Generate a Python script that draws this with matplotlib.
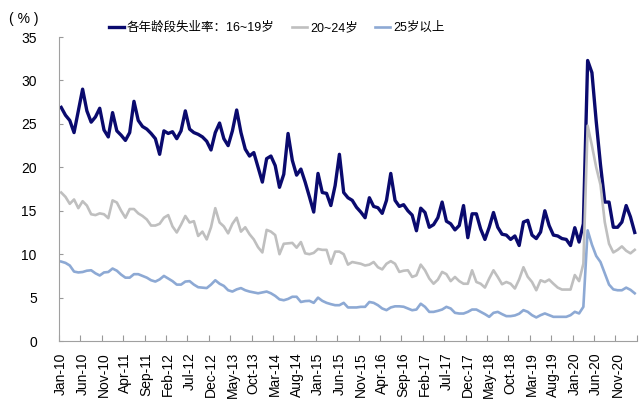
"""
US unemployment rate by age group, monthly, Jan-10 .. Mar-21.
"""
import numpy as np
import matplotlib
matplotlib.use("Agg")
import matplotlib.pyplot as plt

plt.rcParams['font.family'] = ['Liberation Sans', 'Noto Sans CJK SC']
plt.rcParams['axes.unicode_minus'] = False

# 16~19 years
teen = [26.9, 26.0, 25.4, 24.0, 26.5, 29.0, 26.5, 25.2, 25.8, 26.8,
        24.3, 23.5, 26.3, 24.2, 23.7, 23.1, 24.0, 27.6, 25.4, 24.7,
        24.4, 23.9, 23.3, 21.5, 24.2, 23.9, 24.1, 23.3, 24.2, 26.5,
        24.4, 24.0, 23.8, 23.5, 23.0, 22.0, 24.0, 25.1, 23.3, 22.5,
        24.2, 26.6, 24.0, 22.1, 21.3, 21.7, 20.0, 18.3, 21.0, 21.3,
        20.2, 17.7, 19.2, 23.9, 20.8, 19.1, 19.8, 18.3, 16.6, 14.85,
        19.3, 17.1, 17.0, 15.6, 17.9, 21.5, 17.1, 16.5, 16.2, 15.4,
        14.85, 14.2, 16.5, 15.5, 15.35, 14.7, 16.2, 19.3, 16.2, 15.5,
        15.7, 15.0, 14.5, 12.7, 15.3, 14.8, 13.1, 13.4, 14.2, 16.0,
        13.8, 13.5, 12.8, 13.3, 15.6, 11.9, 14.65, 14.65, 12.9, 11.7,
        13.1, 14.8, 13.1, 12.3, 12.2, 11.7, 12.1, 11.0, 13.7, 13.9,
        12.2, 11.8, 12.55, 15.0, 13.3, 12.2, 12.1, 11.8, 11.7, 11.0,
        13.05, 11.4, 13.5, 32.3, 30.9, 25.3, 20.3, 16.0, 16.0, 13.1,
        13.1, 13.7, 15.6, 14.3, 12.5]

# 20~24 years
young = [17.1, 16.6, 15.8, 16.3, 15.3, 16.1, 15.6, 14.6, 14.5, 14.7,
         14.6, 14.15, 16.2, 15.95, 15.0, 14.2, 15.2, 15.2, 14.7, 14.4,
         14.0, 13.3, 13.3, 13.5, 14.2, 14.5, 13.2, 12.5, 13.4, 14.4,
         13.65, 13.8, 12.1, 12.6, 11.7, 13.1, 15.3, 13.65, 13.2, 12.4,
         13.5, 14.2, 12.6, 13.1, 12.3, 11.7, 10.8, 10.2, 12.8, 12.6,
         12.2, 10.0, 11.2, 11.25, 11.3, 10.75, 11.4, 10.1, 10.0, 10.15,
         10.6, 10.5, 10.5, 8.9, 10.3, 10.3, 10.0, 8.8, 9.1, 9.0,
         8.9, 8.7, 8.8, 9.1, 8.5, 8.25, 8.9, 9.2, 8.9, 7.96,
         8.1, 8.15, 7.38, 7.57, 8.8, 8.15, 7.2, 6.6, 7.07, 7.96,
         7.7, 6.9, 7.38, 6.9, 6.6, 6.6, 8.15, 6.8, 6.6, 6.16,
         7.2, 8.15, 7.38, 6.54, 6.8, 6.6, 6.05, 7.1, 8.5, 7.4,
         6.8, 5.85, 7.0, 6.8, 7.08, 6.6, 6.16, 5.93, 5.93, 5.93,
         7.6, 6.9, 8.9, 24.8, 22.5, 20.0, 18.0, 13.7, 11.2, 10.2,
         10.5, 10.9, 10.4, 10.1, 10.5]

# 25 years and over
adult = [9.15, 9.0, 8.7, 8.0, 7.9, 7.95, 8.1, 8.15, 7.8, 7.55,
         7.9, 7.95, 8.35, 8.1, 7.65, 7.3, 7.3, 7.7, 7.7, 7.5,
         7.3, 7.0, 6.85, 7.1, 7.5, 7.2, 6.9, 6.5, 6.5, 6.85,
         6.9, 6.5, 6.2, 6.15, 6.1, 6.5, 7.0, 6.6, 6.35, 5.85,
         5.7, 5.95, 6.1, 5.85, 5.7, 5.6, 5.5, 5.6, 5.7, 5.5,
         5.2, 4.8, 4.7, 4.85, 5.1, 5.1, 4.5, 4.6, 4.63, 4.4,
         5.0, 4.63, 4.4, 4.25, 4.13, 4.13, 4.4, 3.87, 3.87, 3.87,
         3.94, 3.94, 4.5, 4.4, 4.13, 3.75, 3.56, 3.87, 4.0, 4.0,
         3.95, 3.75, 3.55, 3.63, 4.3, 3.94, 3.36, 3.36, 3.48, 3.63,
         3.94, 3.75, 3.25, 3.17, 3.17, 3.36, 3.63, 3.63, 3.36, 3.1,
         2.79, 3.25, 3.36, 3.1, 2.87, 2.87, 2.95, 3.15, 3.56, 3.37,
         2.98, 2.72, 2.98, 3.18, 2.98, 2.79, 2.79, 2.79, 2.79, 2.98,
         3.37, 3.18, 3.94, 12.75, 11.1, 9.8, 9.1, 7.8, 6.5, 5.95,
         5.85, 5.85, 6.15, 5.9, 5.5]

tick_labels = ['Jan-10', 'Jun-10', 'Nov-10', 'Apr-11', 'Sep-11', 'Feb-12',
               'Jul-12', 'Dec-12', 'May-13', 'Oct-13', 'Mar-14', 'Aug-14',
               'Jan-15', 'Jun-15', 'Nov-15', 'Apr-16', 'Sep-16', 'Feb-17',
               'Jul-17', 'Dec-17', 'May-18', 'Oct-18', 'Mar-19', 'Aug-19',
               'Jan-20', 'Jun-20', 'Nov-20']

names = ['各年龄段失业率：16~19岁', '20~24岁', '25岁以上']

n = len(teen)
x = np.arange(n)

fig = plt.figure(figsize=(6.42, 4.07), dpi=100)
ax = fig.add_axes([0.092, 0.162, 0.9, 0.747])

ax.plot(x, teen, color='#0a0a6e', lw=2.4, label=names[0])
ax.plot(x, young, color='#bfbfbf', lw=1.9, label=names[1])
ax.plot(x, adult, color='#8da9d4', lw=1.9, label=names[2])

ax.set_xlim(-0.5, n - 0.5)
ax.set_ylim(0, 35)
ax.set_yticks(np.arange(0, 36, 5))

# tick marks on month boundaries, labels on month centres
ax.set_xticks(np.arange(-0.5, n, 5))
ax.set_xticklabels([])
ax.set_xticks(np.arange(0, n, 5)[:len(tick_labels)], minor=True)
ax.set_xticklabels(tick_labels, minor=True, rotation=90, fontsize=10)
ax.tick_params(axis='x', which='major', direction='in', length=4,
               color='#999999')
ax.tick_params(axis='x', which='minor', length=0, pad=8)
ax.tick_params(axis='y', direction='in', length=3, color='#999999',
               labelsize=10, pad=16)

for side in ('top', 'right'):
    ax.spines[side].set_visible(False)
for side in ('left', 'bottom'):
    ax.spines[side].set_color('#a0a0a0')

fig.text(0.037, 0.953, '( % )', fontsize=10, ha='center', va='center')

fig.legend(loc='center', bbox_to_anchor=(0.431, 0.931), ncol=3,
           frameon=False, fontsize=9, handlelength=1.2, handletextpad=0.25,
           columnspacing=1.4)

fig.savefig('out.png', dpi=100)
